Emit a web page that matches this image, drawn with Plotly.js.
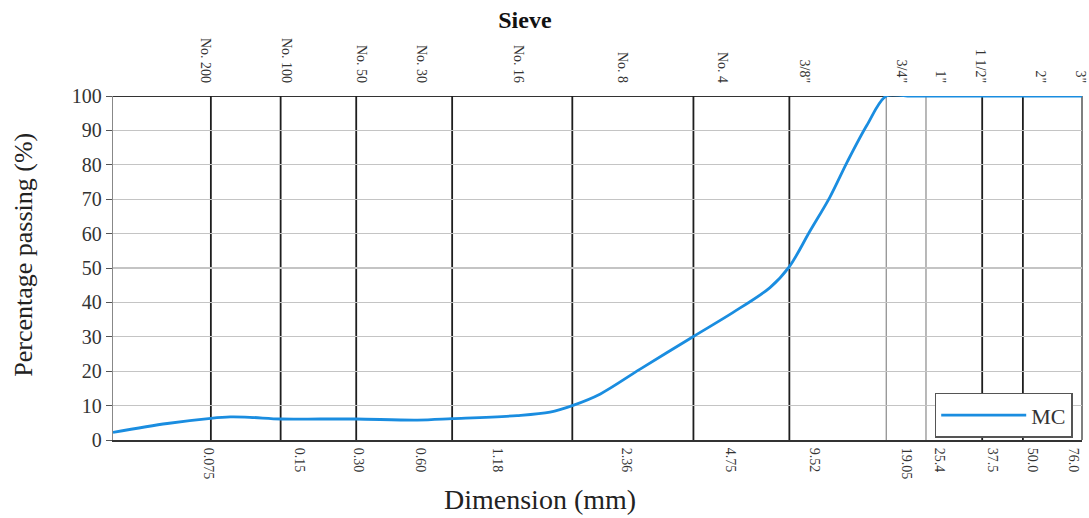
<!DOCTYPE html>
<html>
<head>
<meta charset="utf-8">
<script src="https://cdn.plot.ly/plotly-3.0.1.min.js"></script>
<style>html,body{margin:0;padding:0;background:#fff;}#chart{width:1089px;height:518px;}</style>
</head>
<body>
<div id="chart"></div>
<script>
// Horizontal positions are expressed on the chart's own sieve scale (0-100 across the axis)
const sieveSizes = ["0.075","0.15","0.30","0.60","1.18","2.36","4.75","9.52","19.05","25.4","37.5","50.0","76.0"];
const sizeLabelPos = [9.9, 19.3, 25.3, 31.7, 39.7, 53.0, 63.7, 72.4, 81.9, 85.3, 90.8, 94.9, 99.1];
const sieveNames = ["No. 200","No. 100","No. 50","No. 30","No. 16","No. 8","No. 4","3/8\"","3/4\"","1\"","1 1/2\"","2\"","3\""];
const nameLabelPos = [9.5, 17.9, 25.6, 31.8, 41.9, 52.6, 62.9, 71.4, 81.4, 85.4, 89.5, 95.7, 99.8];
const sieveLinePos = [10.1, 17.3, 25.1, 35.0, 47.4, 59.9, 69.8, 79.8, 83.9, 89.7, 93.9];
const sieveLineDark = [true, true, true, true, true, true, true, false, false, true, true];
const curvePos = [0, 5.6, 10.1, 12.1, 14.1, 17.3, 21.4, 25.1, 31.4, 35.0, 41.7, 45.1, 47.4, 50.3, 54.4, 59.9, 64.0, 67.8, 69.8, 71.9, 74.0, 75.8, 77.8, 79.8, 82.0, 100];
const mcPassing = [2.2, 4.8, 6.3, 6.7, 6.6, 6.1, 6.1, 6.1, 5.8, 6.2, 7.1, 8.1, 10.0, 13.4, 20.6, 30.1, 37.1, 44.3, 50.4, 60.6, 70.7, 81.0, 91.5, 100, 100, 100];

const serif = "Liberation Serif, Times New Roman, serif";

const shapes = sieveLinePos.map((p, i) => ({
  type: 'line', xref: 'x', yref: 'y', x0: p, x1: p, y0: 0, y1: 100, layer: 'below',
  line: {color: sieveLineDark[i] ? '#1e1e1e' : '#8a8a8a', width: sieveLineDark[i] ? 1.8 : 1.2}
}));
shapes.push({type:'line', xref:'paper', yref:'y', x0:0, x1:1, y0:100, y1:100, layer:'below', line:{color:'#333', width:2}});
shapes.push({type:'line', xref:'paper', yref:'paper', x0:1, x1:1, y0:0, y1:1, layer:'below', line:{color:'#555', width:1.5}});

const traces = [
  {x: curvePos, y: mcPassing, type: 'scatter', mode: 'lines', name: 'MC',
   line: {color: '#1a8de0', width: 2.8, shape: 'spline', smoothing: 0.9}},
  {x: [], y: [], xaxis: 'x2', showlegend: false, type: 'scatter'}
];

const layout = {
  width: 1089, height: 518,
  margin: {l: 113, r: 7, t: 96, b: 78},
  paper_bgcolor: '#fff', plot_bgcolor: '#fff',
  font: {family: serif, color: '#222'},
  title: {text: '<b>Sieve</b>', xref: 'container', x: 0.482, xanchor: 'center',
          yref: 'container', y: 0.962, yanchor: 'middle', font: {family: serif, size: 24, color: '#111'}},
  xaxis: {range: [0, 100], tickmode: 'array', tickvals: sizeLabelPos, ticktext: sieveSizes,
          tickangle: 90, ticks: 'outside', ticklen: 3, tickcolor: 'rgba(0,0,0,0)', showgrid: false, zeroline: false, showline: true,
          linecolor: '#333', linewidth: 2, tickfont: {family: serif, size: 14, color: '#333'}, fixedrange: true},
  xaxis2: {overlaying: 'x', side: 'top', range: [0, 100], tickmode: 'array', tickvals: nameLabelPos,
           ticktext: sieveNames, tickangle: 90, ticks: 'outside', ticklen: 7, tickcolor: 'rgba(0,0,0,0)',
           showgrid: false, zeroline: false,
           showline: false, tickfont: {family: serif, size: 14, color: '#333'}},
  yaxis: {range: [0, 100], dtick: 10, tick0: 0, ticks: 'outside', ticklen: 6, tickcolor: '#555',
          showgrid: true, gridcolor: '#c4c4c4', gridwidth: 1.3, zeroline: false, showline: true,
          linecolor: '#888', linewidth: 1.2, tickfont: {family: serif, size: 20, color: '#333'}},
  shapes: shapes,
  showlegend: true,
  legend: {x: 0.848, xanchor: 'left', y: 0.137, yanchor: 'top', bgcolor: '#fff',
           bordercolor: '#555', borderwidth: 1.5, itemwidth: 85,
           font: {family: serif, size: 22, color: '#333'}},
  annotations: [
    {text: 'Dimension (mm)', xref: 'paper', yref: 'paper', x: 0.4407, y: -0.174,
     xanchor: 'center', yanchor: 'middle', showarrow: false, font: {family: serif, size: 28, color: '#222'}},
    {text: 'Percentage passing (%)', xref: 'paper', yref: 'paper', x: -0.092, y: 0.538,
     xanchor: 'center', yanchor: 'middle', textangle: -90, showarrow: false,
     font: {family: serif, size: 26, color: '#222'}}
  ]
};

Plotly.newPlot('chart', traces, layout, {displayModeBar: false, staticPlot: true});
</script>
</body>
</html>
